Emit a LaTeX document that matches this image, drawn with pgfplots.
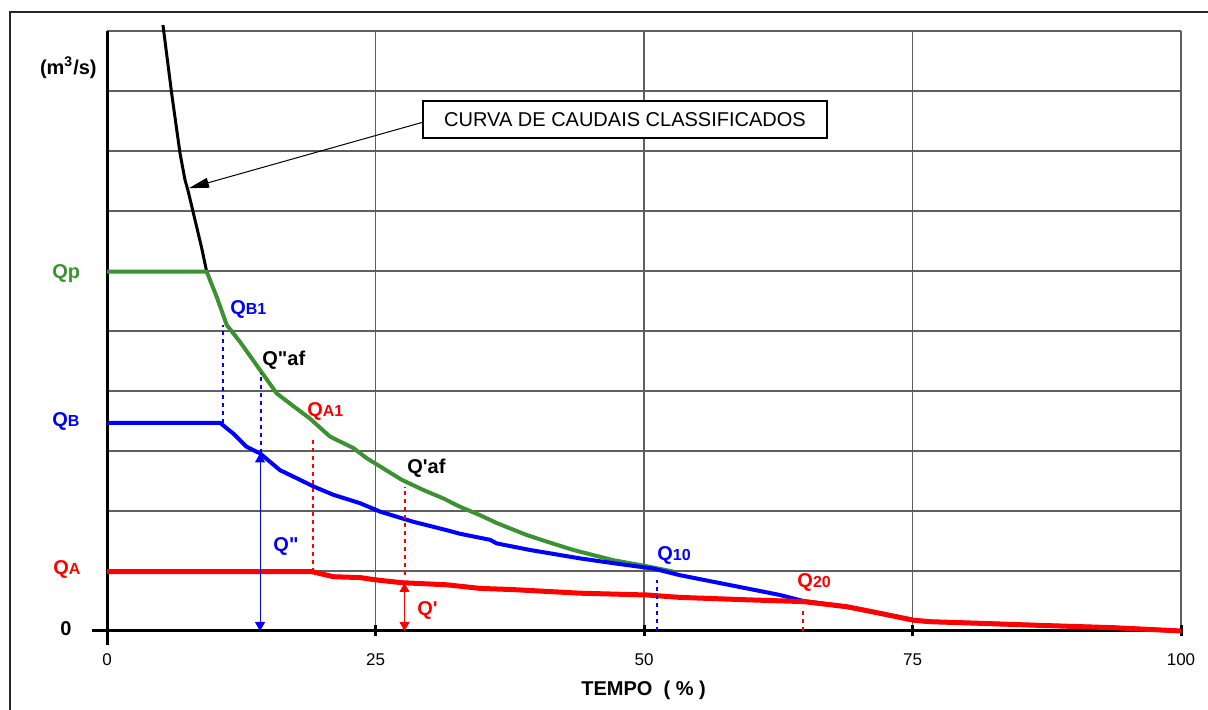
\documentclass[border=0pt]{standalone}
\usepackage{fontspec}
\setmainfont{Liberation Sans}[Ligatures=TeXOff]
\usepackage{pgfplots}
\pgfplotsset{compat=1.18}
\usetikzlibrary{arrows.meta}
\definecolor{qgreen}{RGB}{60,145,50}
\definecolor{gridc}{RGB}{95,95,95}
\newcommand{\sm}[1]{{\fontsize{8}{9}\selectfont #1}}
\pgfplotstableread{
x y
5.21 10.1
6.02 8.96
6.80 7.96
7.26 7.52
7.57 7.32
8.82 6.38
9.28 5.99
}\black
\pgfplotstableread{
x y
0 5.99
9.28 5.99
10.21 5.57
11.15 5.10
12.38 4.82
14.25 4.35
15.80 3.96
17.04 3.79
18.90 3.54
20.76 3.24
22.93 3.05
24.18 2.88
27.44 2.52
29.45 2.35
31.31 2.21
32.87 2.07
34.73 1.93
36.28 1.80
39.08 1.60
40.94 1.49
43.42 1.35
47.14 1.18
49.94 1.09
52.73 0.99
}\green
\pgfplotstableread{
x y
0 3.47
10.52 3.47
11.76 3.29
13.00 3.07
14.25 2.96
16.11 2.68
17.97 2.52
19.21 2.41
21.07 2.27
23.56 2.13
25.42 1.99
28.52 1.82
31.63 1.68
32.87 1.62
35.66 1.52
36.28 1.46
39.39 1.35
44.04 1.21
47.14 1.13
50.87 1.04
53.35 0.93
56.45 0.82
59.56 0.71
62.66 0.60
64.83 0.50
68.87 0.405
71.97 0.295
75.07 0.18
76.63 0.155
81.28 0.128
87.50 0.09
93.70 0.055
100 0
}\blue
\pgfplotstableread{
x y
0 0.99
19.06 0.99
21.07 0.905
23.56 0.89
25.11 0.85
27.44 0.805
31.63 0.77
34.73 0.71
37.80 0.69
44.04 0.63
50.28 0.60
53.35 0.56
59.56 0.52
64.83 0.49
68.87 0.405
71.97 0.295
75.07 0.18
76.63 0.155
81.28 0.128
87.50 0.09
93.70 0.055
100 0
}\red
\tikzset{lab/.style={font=\bfseries\fontsize{10}{12}\selectfont, inner sep=0pt, anchor=base west}}
\begin{document}
\begin{tikzpicture}
\path[use as bounding box] (-53.5pt,-39.5pt) rectangle (550.5pt,315.5pt);
\draw[black!85, line width=0.7pt] (-48.5pt,-45pt) -- (-48.5pt,309.5pt) -- (560pt,309.5pt);
\begin{axis}[
  x=5.37pt, y=30pt, xmin=0, xmax=100, ymin=0, ymax=10,
  clip=false,
  axis lines=left, axis line style={line width=1.5pt,-},
  xtick={0,25,50,75,100}, ytick={0,1,...,10}, yticklabels={},
  grid=major, grid style={gridc, line width=0.9pt},
  tick align=center, major tick length=5.5pt,
  xtick style={line width=1.5pt, black},
  ytick style={draw=none},
  /pgf/number format/assume math mode=true,
  xticklabel style={font=\fontsize{8.5}{10}\selectfont, anchor=base, yshift=-14.75pt, inner sep=0pt},
  xticklabel shift=0pt,
]
\addplot[black, line width=1.5pt] table {\black};
\addplot[qgreen, line width=2pt] table {\green};
\addplot[blue, line width=2pt] table {\blue};
\addplot[red, line width=2.5pt] table {\red};
% dotted verticals
\addplot[blue, line width=1pt, dash pattern=on 2pt off 2pt] coordinates {(10.78,3.47) (10.78,5.10)};
\addplot[blue, line width=1pt, dash pattern=on 2pt off 2pt] coordinates {(14.3,2.96) (14.3,4.30)};
\addplot[red, line width=1pt, dash pattern=on 2pt off 2pt] coordinates {(19.15,0.99) (19.15,3.23)};
\addplot[red, line width=1pt, dash pattern=on 2pt off 2pt] coordinates {(27.75,0.93) (27.75,2.40)};
\addplot[blue, line width=1pt, dash pattern=on 2pt off 2pt] coordinates {(51.2,0) (51.2,0.85)};
\addplot[red, line width=1pt, dash pattern=on 2pt off 2pt] coordinates {(64.8,0) (64.8,0.40)};
% double arrows
\addplot[blue, line width=0.5pt, {Triangle[length=4.5pt,width=5pt]}-{Triangle[length=4.5pt,width=5pt]}] coordinates {(14.25,0) (14.25,2.96)};
\addplot[red, line width=0.5pt, {Triangle[length=4.5pt,width=5pt]}-{Triangle[length=4.5pt,width=5pt]}] coordinates {(27.7,0) (27.7,0.80)};
% axis extensions at origin
\draw[line width=1.5pt] (axis cs:0,0) -- ++(0,-7pt);
\draw[line width=1.5pt] (axis cs:0,0) -- ++(-7.5pt,0);
% callout
\draw[line width=0.5pt, -{Triangle[length=10pt,width=5pt]}] (axis cs:29.42,8.48) -- (axis cs:7.63,7.38);
\node[draw, line width=0.6pt, fill=white, minimum width=202pt, minimum height=18.5pt, inner sep=0pt, font=\fontsize{10}{12}\selectfont] at (axis cs:48.23,8.525) {CURVA DE CAUDAIS CLASSIFICADOS};
% labels
\node[lab, qgreen] at (axis cs:-5.12,5.88) {Qp};
\node[lab, blue] at (axis cs:-5.12,3.41) {Q\sm{B}};
\node[lab, red] at (axis cs:-5.03,0.945) {Q\sm{A}};
\node[lab] at (axis cs:-4.38,-0.07) {0};
\node[lab, anchor=base east] at (axis cs:-0.93,9.28) {(m\textsuperscript{3}/s)};
\node[lab, blue] at (axis cs:11.45,5.28) {Q\sm{B1}};
\node[lab] at (axis cs:14.43,4.42) {Q"af};
\node[lab, red] at (axis cs:18.62,3.58) {Q\sm{A1}};
\node[lab] at (axis cs:27.93,2.62) {Q'af};
\node[lab, blue] at (axis cs:15.46,1.33) {Q"};
\node[lab, red] at (axis cs:28.86,0.25) {Q'};
\node[lab, blue] at (axis cs:51.21,1.18) {Q\sm{10}};
\node[lab, red] at (axis cs:64.25,0.73) {Q\sm{20}};
\node[lab] at (axis cs:44.13,-1.083) {TEMPO~~(~\%~)};
\end{axis}
\end{tikzpicture}
\end{document}
